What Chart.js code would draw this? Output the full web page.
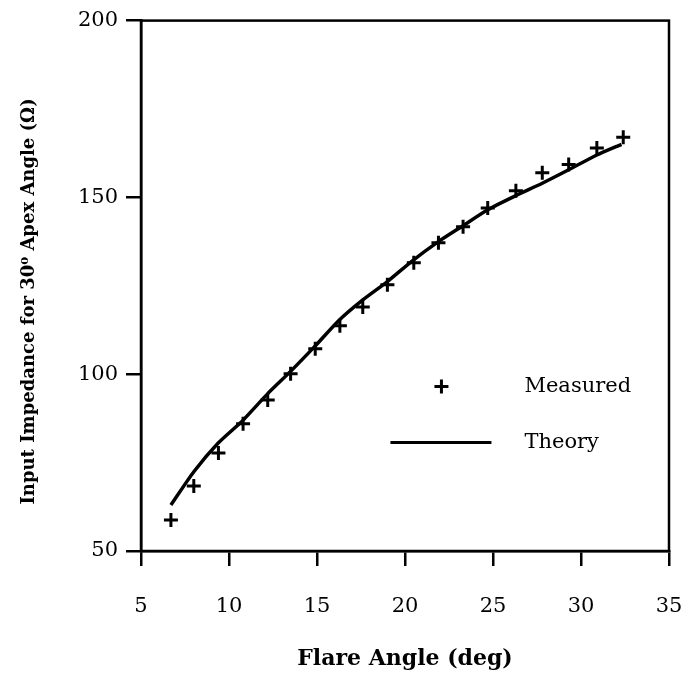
<!DOCTYPE html>
<html lang="en">
<head>
    <meta charset="UTF-8">
    <title>Input Impedance vs Flare Angle</title>
    <script src="https://cdn.jsdelivr.net/npm/chart.js"></script>
    <style>
        html, body { margin: 0; padding: 0; background: #fff; }
        #chart { display: block; }
    </style>
</head>
<body>
    <canvas id="chart" width="689" height="685"></canvas>

    <script>
        // values
        const seriesNames = ['Measured', 'Theory'];
        const measuredAngle = [6.7, 8.0, 9.4, 10.8, 12.2, 13.5, 14.9, 16.3, 17.6, 19.0, 20.5, 21.9, 23.3, 24.7, 26.3, 27.8, 29.3, 30.9, 32.4];
        const measuredZ = [58.8, 68.4, 77.7, 86.0, 92.7, 100.1, 107.2, 113.7, 119.0, 125.3, 131.5, 137.2, 141.7, 147.0, 151.9, 157.0, 159.3, 164.0, 167.0];
        const theoryAngle = [6.7, 8.0, 9.4, 10.8, 12.2, 13.5, 14.9, 16.2, 17.6, 19.0, 20.4, 21.9, 23.3, 24.7, 26.3, 27.8, 29.3, 30.9, 32.3];
        const theoryZ = [63.0, 72.4, 80.6, 87.0, 94.5, 100.8, 108.0, 115.0, 121.0, 126.2, 132.0, 137.5, 142.0, 146.5, 150.5, 154.0, 157.8, 162.0, 165.0];
        const xTicks = [5, 10, 15, 20, 25, 30, 35];
        const yTicks = [50, 100, 150, 200];

        const serif = "'DejaVu Serif', 'Liberation Serif', serif";

        function toPoints(xs, ys) {
            return xs.map((x, i) => ({ x: x, y: ys[i] }));
        }

        // box around plot area + legend inside it
        const framePlugin = {
            id: 'frame',
            afterDraw(chart) {
                const { ctx, chartArea: a } = chart;
                ctx.save();
                ctx.strokeStyle = '#000';
                ctx.lineWidth = 2.5;
                ctx.strokeRect(a.left, a.top, a.right - a.left, a.bottom - a.top);

                // legend
                const lx = a.left + 0.48 * (a.right - a.left);
                const ty = a.top + 0.69 * (a.bottom - a.top);
                ctx.font = '21px ' + serif;
                ctx.fillStyle = '#000';
                ctx.textBaseline = 'middle';
                // cross marker
                ctx.lineWidth = 3;
                ctx.beginPath();
                ctx.moveTo(lx + 47, ty - 7); ctx.lineTo(lx + 47, ty + 7);
                ctx.moveTo(lx + 40, ty); ctx.lineTo(lx + 54, ty);
                ctx.stroke();
                ctx.fillText(seriesNames[0], lx + 130, ty);
                // line sample
                const ty2 = ty + 56;
                ctx.lineWidth = 3;
                ctx.beginPath();
                ctx.moveTo(lx - 4, ty2); ctx.lineTo(lx + 97, ty2);
                ctx.stroke();
                ctx.fillText(seriesNames[1], lx + 130, ty2);
                ctx.restore();
            }
        };

        new Chart(document.getElementById('chart'), {
            type: 'scatter',
            data: {
                datasets: [
                    {
                        label: seriesNames[0],
                        data: toPoints(measuredAngle, measuredZ),
                        pointStyle: 'cross',
                        pointRadius: 7,
                        pointBorderWidth: 3,
                        borderColor: '#000',
                        backgroundColor: '#000',
                        showLine: false
                    },
                    {
                        label: seriesNames[1],
                        data: toPoints(theoryAngle, theoryZ),
                        showLine: true,
                        pointRadius: 0,
                        borderColor: '#000',
                        borderWidth: 3.5,
                        tension: 0.2
                    }
                ]
            },
            options: {
                responsive: false,
                animation: false,
                layout: { padding: { top: 20, right: 20, bottom: 0, left: 0 } },
                plugins: {
                    legend: { display: false },
                    tooltip: { enabled: false }
                },
                scales: {
                    x: {
                        type: 'linear',
                        min: 5,
                        max: 35,
                        afterBuildTicks: (s) => { s.ticks = xTicks.map(v => ({ value: v })); },
                        afterFit: (s) => { s.height = 134; s.paddingRight = 0; s.paddingLeft = 0; },
                        grid: { drawOnChartArea: false, color: '#000', lineWidth: 2.5, tickLength: 15 },
                        border: { color: '#000', width: 2.5 },
                        ticks: { color: '#000', padding: 28, maxRotation: 0, font: { family: serif, size: 21 } },
                        title: {
                            display: true,
                            text: 'Flare Angle (deg)',
                            color: '#000',
                            padding: { top: 0, bottom: 13 },
                            font: { family: serif, size: 22, weight: 'bold' }
                        }
                    },
                    y: {
                        type: 'linear',
                        min: 50,
                        max: 200,
                        afterBuildTicks: (s) => { s.ticks = yTicks.map(v => ({ value: v })); },
                        afterFit: (s) => { s.width = 141; },
                        grid: { drawOnChartArea: false, color: '#000', lineWidth: 2.5, tickLength: 15 },
                        border: { color: '#000', width: 2.5 },
                        ticks: { color: '#000', padding: 8, font: { family: serif, size: 21 } },
                        title: {
                            display: true,
                            // trailing spaces nudge the rotated title down a little
                            text: 'Input Impedance for 30\u2070 Apex Angle (\u03A9)     ',
                            color: '#000',
                            padding: { top: 19, bottom: 0 },
                            font: { family: serif, size: 18, weight: 'bold' }
                        }
                    }
                }
            },
            plugins: [framePlugin]
        });
    </script>
</body>
</html>
